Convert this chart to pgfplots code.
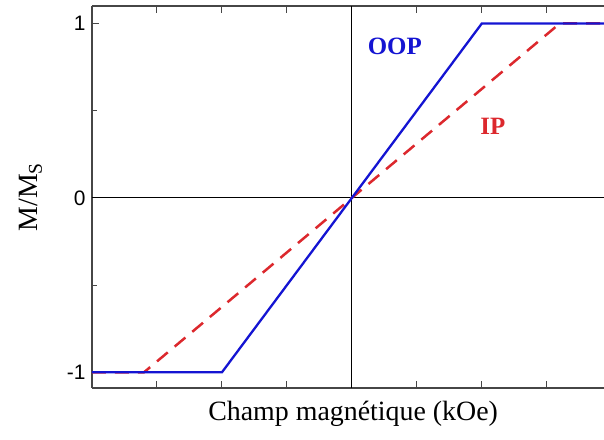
\documentclass[border=0pt]{standalone}
\usepackage{fontspec}
\setmainfont{Liberation Serif}
\newfontfamily\ticksans{Liberation Sans}
\usepackage{pgfplots}
\pgfplotsset{compat=1.18}

\definecolor{oopblue}{RGB}{20,20,210}
\definecolor{ipred}{RGB}{220,40,45}
\definecolor{axgray}{RGB}{70,70,70}

\begin{document}
\begin{tikzpicture}
\begin{axis}[
    scale only axis,
    width=512bp, height=382bp,
    xmin=-4, xmax=3.88,
    ymin=-1.09, ymax=1.10,
    separate axis lines,
    axis x line*=box,
    axis y line*=left,
    axis line style={axgray, line width=1.3bp},
    every tick/.style={axgray, line width=1bp},
    tick align=inside,
    major tick length=7bp,
    minor tick length=5bp,
    xtick={-3,-2,-1,1,2,3},
    xticklabels={},
    ytick={-1,0,1},
    yticklabels={-1,0,1},
    minor ytick={-0.5,0.5},
    /pgf/number format/assume math mode=true,
    yticklabel style={font=\ticksans\fontsize{21}{21}\selectfont, xshift=-3bp},
    xlabel={Champ magnétique (kOe)},
    ylabel={M/M$_{\mathrm{S}}$},
    xlabel style={font=\fontsize{28}{28}\selectfont, at={(axis description cs:0.51,-0.068)}, anchor=center},
    ylabel style={font=\fontsize{28}{28}\selectfont, at={(axis description cs:-0.12,0.5)}, anchor=center},
    clip=true,
]
\addplot[black, line width=1bp] coordinates {(0,-1.09)(0,1.10)};
\addplot[black, line width=1bp] coordinates {(-4,0)(3.88,0)};
\addplot[ipred, line width=2.5bp, dash pattern=on 14bp off 9bp] coordinates {
    (-4,-1)(-3.2,-1)(3.2,1)(3.88,1)
};
\addplot[oopblue, line width=2.3bp] coordinates {
    (-4,-1)(-2,-1)(2,1)(3.88,1)
};
\node[text=oopblue, font=\bfseries\fontsize{25}{25}\selectfont] at (axis cs:0.66,0.87) {OOP};
\node[text=ipred, font=\bfseries\fontsize{25}{25}\selectfont] at (axis cs:2.17,0.41) {IP};
\end{axis}
\pgfresetboundingbox
\path (current axis.south west) ++(-92bp,-52bp) rectangle ++(604bp,440bp);
\end{tikzpicture}
\end{document}
